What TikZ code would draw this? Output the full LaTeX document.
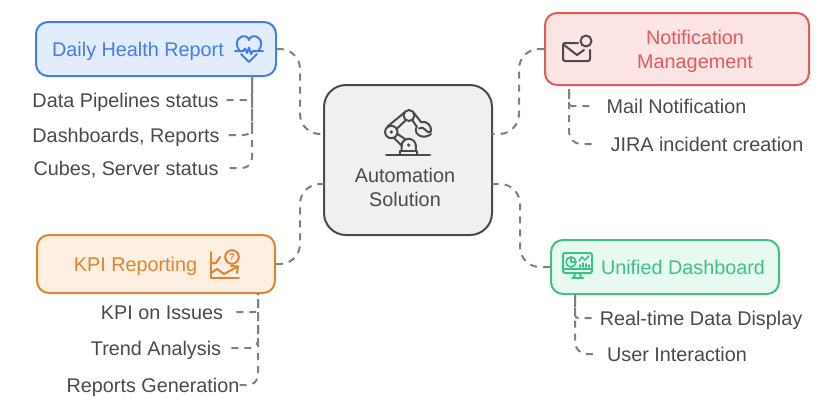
\documentclass[tikz,border=0pt]{standalone}
\usepackage{fontspec}
\setmainfont{Liberation Sans}
\usetikzlibrary{calc}
\definecolor{ink}{HTML}{4A4A4A}
\definecolor{dashc}{HTML}{808080}
\definecolor{blueS}{HTML}{3F7FE6}\definecolor{blueF}{HTML}{E3ECFD}
\definecolor{redS}{HTML}{E35A5A}\definecolor{redF}{HTML}{FEE5E5}
\definecolor{orgS}{HTML}{E0842F}\definecolor{orgF}{HTML}{FDF0E3}
\definecolor{grnS}{HTML}{3CC283}\definecolor{grnF}{HTML}{E8F9F1}
\definecolor{midF}{HTML}{F0F0F0}
\tikzset{
  x=1pt,y=-1pt,
  box/.style={draw,line width=2pt,rounded corners=12pt,inner sep=0pt},
  lab/.style={inner sep=0pt,text=ink,font=\fontsize{19.8}{24}\selectfont,text height=14pt,text depth=0pt},
  ttl/.style={inner sep=0pt,font=\fontsize{19.8}{24}\selectfont,text height=14pt,text depth=0pt,align=center},
  conn/.style={draw=dashc,line width=2pt,dash pattern=on 7pt off 6pt,rounded corners=13pt},
  ico/.style={line width=2pt,line cap=round,line join=round,fill=none},
}
\begin{document}
\begin{tikzpicture}
\useasboundingbox (0,0) rectangle (822,408);
% boxes
\node[box,draw=blueS,fill=blueF,minimum width=240pt,minimum height=54pt] (dhr) at (156,49) {};
\node[box,draw=ink,fill=midF,rounded corners=22pt,minimum width=168pt,minimum height=150pt] (auto) at (408,160) {};
\node[box,draw=redS,fill=redF,minimum width=264pt,minimum height=72pt] (noti) at (677,49) {};
\node[box,draw=orgS,fill=orgF,minimum width=238pt,minimum height=58pt] (kpi) at (156,264) {};
\node[box,draw=grnS,fill=grnF,minimum width=228pt,minimum height=54pt] (uni) at (665,267) {};
% titles
\node[ttl,text=blueS] (tdhr) at (138,49) {Daily Health Report};
\node[ttl,text=redS] (tnoti1) at (695,37) {Notification};
\node[ttl,text=redS] (tnoti2) at (695,61) {Management};
\node[ttl,text=orgS] (tkpi) at (135.5,264) {KPI Reporting};
\node[ttl,text=grnS] (tuni) at (683,267) {Unified Dashboard};
\node[lab] (tauto1) at (405,175) {Automation};
\node[lab] (tauto2) at (405,199) {Solution};
% labels
\node[lab] (a1) at (125.5,100) {Data Pipelines status};
\node[lab] (a2) at (126,135) {Dashboards, Reports};
\node[lab] (a3) at (126,168) {Cubes, Server status};
\node[lab] (b1) at (676.5,106) {Mail Notification};
\node[lab] (b2) at (707,144) {JIRA incident creation};
\node[lab] (c1) at (162,312) {KPI on Issues};
\node[lab] (c2) at (156,348) {Trend Analysis};
\node[lab] (c3) at (153,385) {Reports Generation};
\node[lab] (d1) at (701,318) {Real-time Data Display};
\node[lab] (d2) at (677,354) {User Interaction};
% anchor points
\coordinate (dT) at (252,76);
\coordinate (nT) at (569,85);
\coordinate (kT) at (258,293);
\coordinate (uT) at (575,294);
\coordinate (aW1) at (324,134);
\coordinate (aW2) at (324,184);
\coordinate (aE1) at (492,134);
\coordinate (aE2) at (492,184);
% main connectors
\draw[conn,rounded corners=20pt] (dhr.east) -- (300,49) -- (300,134) -- (aW1);
\draw[conn,rounded corners=20pt] (kpi.east) -- (300,264) -- (300,184) -- (aW2);
\draw[conn,rounded corners=20pt] (noti.west) -- (519,49) -- (519,134) -- (aE1);
\draw[conn,rounded corners=20pt] (uni.west) -- (520,267) -- (520,184) -- (aE2);
% branch connectors, laid from the label to the box
\draw[conn,rounded corners=6pt] ($(a1.east)+(8,0)$) -- (252,100) -- (dT);
\draw[conn,rounded corners=8pt] ($(a2.east)+(9,0)$) -- (252,135) -- (dT);
\draw[conn,rounded corners=10pt] ($(a3.east)+(11,0)$) -- (252,168) -- (dT);
\draw[conn,rounded corners=3pt] ($(b1.west)+(-17,0)$) -- (569,106) -- (nT);
\draw[conn,rounded corners=12pt] ($(b2.west)+(-19,0)$) -- (569,144) -- (nT);
\draw[conn,rounded corners=3pt] ($(c1.east)+(13,0)$) -- (258,312) -- (kT);
\draw[conn,rounded corners=8pt] ($(c2.east)+(10,0)$) -- (258,348) -- (kT);
\draw[conn,rounded corners=10pt] (c3.east) -- (258,385) -- (kT);
\draw[conn,rounded corners=3pt] ($(d1.west)+(-8,0)$) -- (575,318) -- (uT);
\draw[conn,rounded corners=12pt] ($(d2.west)+(-14,0)$) -- (575,354) -- (uT);
% heart icon
\begin{scope}[draw=blueS]
\draw[ico] (239,50) .. controls (233,41) and (241,34) .. (246,36.5) .. controls (248,37.5) and (249,39) .. (249,40) .. controls (249,39) and (250,37.5) .. (252,36.5) .. controls (257,34) and (265,41) .. (259,50);
\draw[ico] (241,54) -- (249,62) -- (257,54);
\draw[ico] (235,51) -- (243,51) -- (245,48.5) -- (247,53) -- (249,47.5) -- (251,54) -- (253,51) -- (263,51);
\end{scope}
% robot icon
\begin{scope}[draw=ink]
\draw[ico] (386,155) -- (430,155);
\draw[ico] (400,155) -- (400,150.5) -- (417,150.5) -- (417,155);
\draw[ico] (401.5,150) -- (401.5,146) arc[start angle=180,end angle=360,radius=7.2] -- (416,150);
\fill[ink] (408.7,145) circle (1.8);
\draw[ico] (391.3,132) circle (6.2);
\fill[ink] (391.3,132) circle (1.8);
\draw[ico] (409,115.5) circle (5.5);
\draw[ico] (387.5,126.5) -- (404.5,112.5);
\draw[ico] (396.5,129) -- (405.5,120.5);
\draw[ico] (394,138) -- (402,146);
\draw[ico] (397.5,134) -- (405,139);
\draw[ico] (414,113) -- (421,122);
\draw[ico] (412.5,120.5) -- (417,127);
\draw[ico] (421,122) .. controls (427,120.5) and (432,126) .. (431,131.5) .. controls (428,133) and (426,131) .. (425,129.5) .. controls (424,127.5) and (421,127) .. (419,128.5);
\draw[ico] (416,128) .. controls (414,135) and (424,140) .. (431,134);
\end{scope}
% mail icon
\begin{scope}[draw=ink]
\draw[ico] (578,43) -- (565,43) .. controls (564,43) and (563,44) .. (563,45) -- (563,59) .. controls (563,60) and (564,61) .. (565,61) -- (588,61) .. controls (589,61) and (590,60) .. (590,59) -- (590,50);
\draw[ico] (564,45) -- (577,55) -- (584,50);
\draw[ico] (586,41) circle (5.5);
\end{scope}
% KPI icon
\begin{scope}[draw=orgS]
\draw[ico] (211,252) -- (211,278) -- (239,278);
\draw[ico] (211,263) -- (216,263) -- (220,257);
\draw[ico] (211,273) -- (217,269) -- (224,274) -- (237,267);
\draw[ico] (231,266) -- (238,266.5) -- (237,273);
\draw[ico] (232,257) circle (6.8);
\node[inner sep=0pt,text=orgS,font=\bfseries\fontsize{10}{10}\selectfont] (kq) at (232,257) {?};
\end{scope}
% dashboard icon
\begin{scope}[draw=grnS]
\draw[ico,rounded corners=1.5pt] (563,253) rectangle (592,273);
\draw[ico] (563,269) -- (592,269);
\draw[ico] (575,273) -- (574,278);
\draw[ico] (580,273) -- (581,278);
\draw[ico] (572,278) -- (583,278);
\draw[ico,line width=1.6pt] (571,262) circle (5);
\draw[ico,line width=1.6pt] (571,257) -- (571,262) -- (576,262);
\draw[ico,line width=1.6pt] (579,261) -- (582,257) -- (585,260) -- (589,256);
\draw[ico,line width=1.6pt] (580,267) -- (580,265);
\draw[ico,line width=1.6pt] (583,267) -- (583,263);
\draw[ico,line width=1.6pt] (586,267) -- (586,264);
\draw[ico,line width=1.6pt] (589,267) -- (589,265);
\end{scope}
\end{tikzpicture}
\end{document}
